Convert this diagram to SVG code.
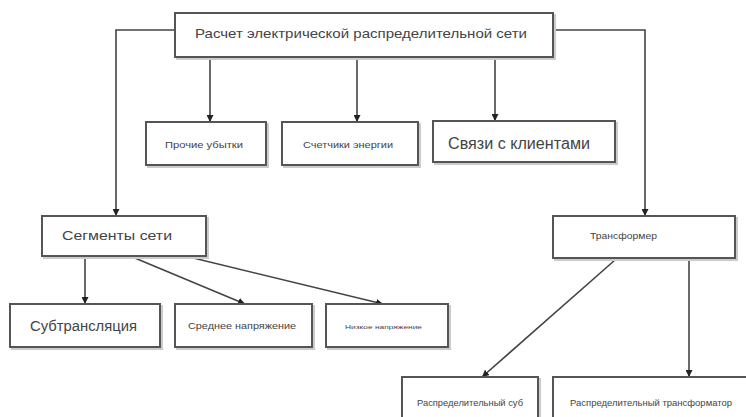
<svg xmlns="http://www.w3.org/2000/svg" width="746" height="417" viewBox="0 0 746 417">
<defs>
<marker id="ah" viewBox="0 0 10 10" refX="10" refY="5" markerWidth="7" markerHeight="7" markerUnits="userSpaceOnUse" orient="auto"><path d="M0,0 L10,5 L0,10 z" fill="#222"/></marker>
</defs>
<style>
.box{fill:#fff;stroke:#555;stroke-width:2}
.sh{fill:none;stroke:#ccc;stroke-width:2}
.t{font-family:"Liberation Sans",Arial,sans-serif;fill:#444;text-anchor:start;dominant-baseline:central}
.c{fill:none;stroke:#444;stroke-width:1.6}
.ca{fill:none;stroke:#444;stroke-width:1.6;marker-end:url(#ah)}
</style>
<rect width="746" height="417" fill="#fff"/>
<g id="connectors">
<polyline class="ca" points="175,30 116,30 116,216"/>
<polyline class="ca" points="553,30 645,30 645,216"/>
<line class="ca" x1="210" y1="57" x2="210" y2="122"/>
<line class="ca" x1="357" y1="57" x2="357" y2="122"/>
<line class="ca" x1="495" y1="57" x2="495" y2="121"/>
<line class="ca" x1="85" y1="256" x2="85" y2="304"/>
<line class="ca" x1="130" y1="256" x2="245" y2="304"/>
<line class="ca" x1="185" y1="256" x2="383" y2="304"/>
<line class="ca" x1="615" y1="260" x2="482" y2="377"/>
<line class="ca" x1="689" y1="260" x2="689" y2="377"/>
</g>
<g id="n_root"><rect class="sh" x="177" y="15" width="378" height="44"/><rect class="box" x="175" y="13" width="378" height="44"/><text class="t" x="195" y="33" font-size="13" textLength="332" lengthAdjust="spacingAndGlyphs">Расчет электрической распределительной сети</text></g>
<g id="n_losses"><rect class="sh" x="148" y="124" width="120" height="43"/><rect class="box" x="146" y="122" width="120" height="43"/><text class="t" x="165" y="145" font-size="9" textLength="78" lengthAdjust="spacingAndGlyphs">Прочие убытки</text></g>
<g id="n_meters"><rect class="sh" x="284" y="124" width="136" height="43"/><rect class="box" x="282" y="122" width="136" height="43"/><text class="t" x="303" y="145" font-size="9" textLength="90" lengthAdjust="spacingAndGlyphs">Счетчики энергии</text></g>
<g id="n_clients"><rect class="sh" x="435" y="123" width="182" height="41"/><rect class="box" x="433" y="121" width="182" height="41"/><text class="t" x="448" y="143" font-size="16" textLength="142" lengthAdjust="spacingAndGlyphs">Связи с клиентами</text></g>
<g id="n_segments"><rect class="sh" x="44" y="218" width="164" height="40"/><rect class="box" x="42" y="216" width="164" height="40"/><text class="t" x="62" y="235" font-size="13" textLength="110" lengthAdjust="spacingAndGlyphs">Сегменты сети</text></g>
<g id="n_transformer"><rect class="sh" x="555" y="218" width="182" height="42"/><rect class="box" x="553" y="216" width="182" height="42"/><text class="t" x="590" y="236" font-size="9" textLength="67" lengthAdjust="spacingAndGlyphs">Трансформер</text></g>
<g id="n_subtrans"><rect class="sh" x="12" y="306" width="150" height="43"/><rect class="box" x="10" y="304" width="150" height="43"/><text class="t" x="30" y="326" font-size="14" textLength="107" lengthAdjust="spacingAndGlyphs">Субтрансляция</text></g>
<g id="n_medium"><rect class="sh" x="177" y="306" width="137" height="43"/><rect class="box" x="175" y="304" width="137" height="43"/><text class="t" x="188" y="326" font-size="9" textLength="108" lengthAdjust="spacingAndGlyphs">Среднее напряжение</text></g>
<g id="n_low"><rect class="sh" x="328" y="306" width="122" height="43"/><rect class="box" x="326" y="304" width="122" height="43"/><text class="t" x="345" y="327" font-size="6" textLength="77" lengthAdjust="spacingAndGlyphs">Низкое напряжение</text></g>
<g id="n_distsub"><rect class="sh" x="404" y="379" width="136" height="50"/><rect class="box" x="402" y="377" width="136" height="50"/><text class="t" x="417" y="403" font-size="9" textLength="106" lengthAdjust="spacingAndGlyphs">Распределительный суб</text></g>
<g id="n_disttrans"><rect class="sh" x="555" y="379" width="200" height="50"/><rect class="box" x="553" y="377" width="200" height="50"/><text class="t" x="570" y="403" font-size="9" textLength="162" lengthAdjust="spacingAndGlyphs">Распределительный трансформатор</text></g>
</svg>
